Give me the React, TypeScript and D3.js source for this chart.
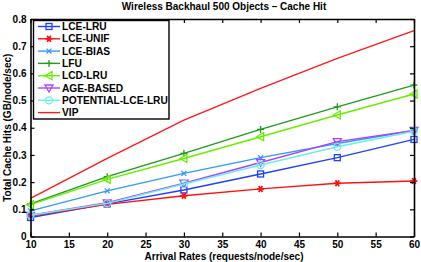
import { useEffect, useRef } from 'react'
import * as d3 from 'd3'

// arrival rates (requests/node/sec)
const rates = [10, 20, 30, 40, 50, 60]

// total cache hits (GB/node/sec)
const lceLru = [0.07, 0.12, 0.171, 0.23, 0.29, 0.357]
const lceUnif = [0.075, 0.118, 0.15, 0.175, 0.196, 0.204]
const lceBias = [0.094, 0.168, 0.232, 0.29, 0.342, 0.39]
const lfu = [0.12, 0.22, 0.306, 0.394, 0.477, 0.557]
const lcdLru = [0.117, 0.21, 0.287, 0.367, 0.447, 0.524]
const ageBased = [0.078, 0.124, 0.196, 0.272, 0.349, 0.39]
const potentialLceLru = [0.078, 0.122, 0.193, 0.263, 0.33, 0.387]
const vip = [0.14, 0.287, 0.428, 0.545, 0.655, 0.757]

const xTicks = [10, 15, 20, 25, 30, 35, 40, 45, 50, 55, 60]
const yTicks = [0, 0.1, 0.2, 0.3, 0.4, 0.5, 0.6, 0.7, 0.8]

const series = [
  { name: 'LCE-LRU', values: lceLru, color: '#2040ff', marker: 'square' },
  { name: 'LCE-UNIF', values: lceUnif, color: '#ff1010', marker: 'star' },
  { name: 'LCE-BIAS', values: lceBias, color: '#3399ff', marker: 'x' },
  { name: 'LFU', values: lfu, color: '#1f9a1f', marker: 'plus' },
  { name: 'LCD-LRU', values: lcdLru, color: '#66ee00', marker: 'tri-left' },
  { name: 'AGE-BASED', values: ageBased, color: '#b040ff', marker: 'tri-down' },
  { name: 'POTENTIAL-LCE-LRU', values: potentialLceLru, color: '#66f0e6', marker: 'circle' },
  { name: 'VIP', values: vip, color: '#ff1a1a', marker: 'none' }
]

const W = 421
const H = 262
const margin = { left: 30.5, right: 7, top: 19, bottom: 25.5 }
const font = '"Liberation Sans", Arial, sans-serif'

function drawMarker(g, kind, x, y, color) {
  const s = 3
  if (kind === 'square') {
    g.append('rect').attr('x', x - s).attr('y', y - s).attr('width', 2 * s).attr('height', 2 * s)
      .attr('fill', 'none').attr('stroke', color).attr('stroke-width', 1.3)
  } else if (kind === 'circle') {
    g.append('circle').attr('cx', x).attr('cy', y).attr('r', s + 0.5)
      .attr('fill', 'none').attr('stroke', color).attr('stroke-width', 1.3)
  } else if (kind === 'plus' || kind === 'x' || kind === 'star') {
    const arms = kind === 'plus' ? [0, 90] : kind === 'x' ? [45, 135] : [0, 60, 120]
    arms.forEach(a => {
      const r = (a * Math.PI) / 180
      const dx = Math.cos(r) * (s + 0.5)
      const dy = Math.sin(r) * (s + 0.5)
      g.append('line').attr('x1', x - dx).attr('y1', y - dy).attr('x2', x + dx).attr('y2', y + dy)
        .attr('stroke', color).attr('stroke-width', kind === 'star' ? 1.8 : 1.3)
    })
  } else if (kind === 'tri-left') {
    const p = [[x - s - 1, y], [x + s, y - s - 1], [x + s, y + s + 1]]
    g.append('polygon').attr('points', p.map(q => q.join(',')).join(' '))
      .attr('fill', 'none').attr('stroke', color).attr('stroke-width', 1.3)
  } else if (kind === 'tri-down') {
    const p = [[x, y + s + 1], [x - s - 1, y - s], [x + s + 1, y - s]]
    g.append('polygon').attr('points', p.map(q => q.join(',')).join(' '))
      .attr('fill', 'none').attr('stroke', color).attr('stroke-width', 1.3)
  }
}

export default function App() {
  const svgRef = useRef(null)

  useEffect(() => {
    const svg = d3.select(svgRef.current)
    svg.selectAll('*').remove()

    const x = d3.scaleLinear().domain([10, 60]).range([margin.left, W - margin.right])
    const y = d3.scaleLinear().domain([0, 0.8]).range([H - margin.bottom, margin.top])

    svg.append('rect').attr('width', W).attr('height', H).attr('fill', '#fff')

    // lines and markers
    series.forEach(s => {
      const line = d3.line<number>()
        .x((d, i) => x(rates[i]))
        .y(d => y(d))
      svg.append('path')
        .datum(s.values)
        .attr('d', line)
        .attr('fill', 'none')
        .attr('stroke', s.color)
        .attr('stroke-width', 1.4)
      const mg = svg.append('g')
      s.values.forEach((v, i) => drawMarker(mg, s.marker, x(rates[i]), y(v), s.color))
    })

    // axes, ticks pointing inward, box on all sides
    const tickLen = 4
    const bottom = svg.append('g')
      .attr('transform', `translate(0,${H - margin.bottom})`)
      .call(d3.axisBottom(x).tickValues(xTicks).tickSizeInner(-tickLen).tickSizeOuter(0).tickPadding(4).tickFormat(d3.format('d')))
    const left = svg.append('g')
      .attr('transform', `translate(${margin.left},0)`)
      .call(d3.axisLeft(y).tickValues(yTicks).tickSizeInner(-tickLen).tickSizeOuter(0).tickPadding(4).tickFormat(d => d === 0 ? '0' : d3.format('.1f')(d)))
    const top = svg.append('g')
      .attr('transform', `translate(0,${margin.top})`)
      .call(d3.axisTop(x).tickValues(xTicks).tickSizeInner(-tickLen).tickSizeOuter(0).tickFormat(() => ''))
    const right = svg.append('g')
      .attr('transform', `translate(${W - margin.right},0)`)
      .call(d3.axisRight(y).tickValues(yTicks).tickSizeInner(-tickLen).tickSizeOuter(0).tickFormat(() => ''))

    ;[bottom, left, top, right].forEach(a => {
      a.select('.domain').attr('stroke', '#000').attr('stroke-width', 1.6)
      a.selectAll('.tick line').attr('stroke', '#000').attr('stroke-width', 1.2)
      a.selectAll('text').attr('font-family', font).attr('font-size', 10)
        .attr('font-weight', 'bold').attr('fill', '#000')
    })

    // title and axis labels
    svg.append('text').attr('x', 224).attr('y', 10).attr('text-anchor', 'middle')
      .attr('font-family', font).attr('font-size', 10).attr('font-weight', 'bold')
      .text('Wireless Backhaul 500 Objects \u2013 Cache Hit')
    svg.append('text').attr('x', 224).attr('y', 260).attr('text-anchor', 'middle')
      .attr('font-family', font).attr('font-size', 10).attr('font-weight', 'bold')
      .text('Arrival Rates (requests/node/sec)')
    svg.append('text').attr('transform', `translate(7,${(margin.top + H - margin.bottom) / 2}) rotate(-90)`)
      .attr('text-anchor', 'middle').attr('dy', '0.35em')
      .attr('font-family', font).attr('font-size', 10).attr('font-weight', 'bold')
      .text('Total Cache Hits (GB/node/sec)')

    // legend
    const lg = svg.append('g')
    lg.append('rect').attr('x', 33.5).attr('y', 20.5).attr('width', 135.5).attr('height', 98.5)
      .attr('fill', '#fff').attr('stroke', '#000').attr('stroke-width', 1.4)
    series.forEach((s, i) => {
      const ly = 26.5 + i * 12.3
      lg.append('line').attr('x1', 38).attr('x2', 60).attr('y1', ly).attr('y2', ly)
        .attr('stroke', s.color).attr('stroke-width', 1.4)
      drawMarker(lg, s.marker, 49, ly, s.color)
      lg.append('text').attr('x', 62).attr('y', ly).attr('dy', '0.35em')
        .attr('font-family', font).attr('font-size', 10.2).attr('font-weight', 'bold')
        .text(s.name)
    })
  }, [])

  return (
    <svg ref={svgRef} width={W} height={H}
      style={{ position: 'absolute', left: 0, top: 0, display: 'block' }} />
  )
}
